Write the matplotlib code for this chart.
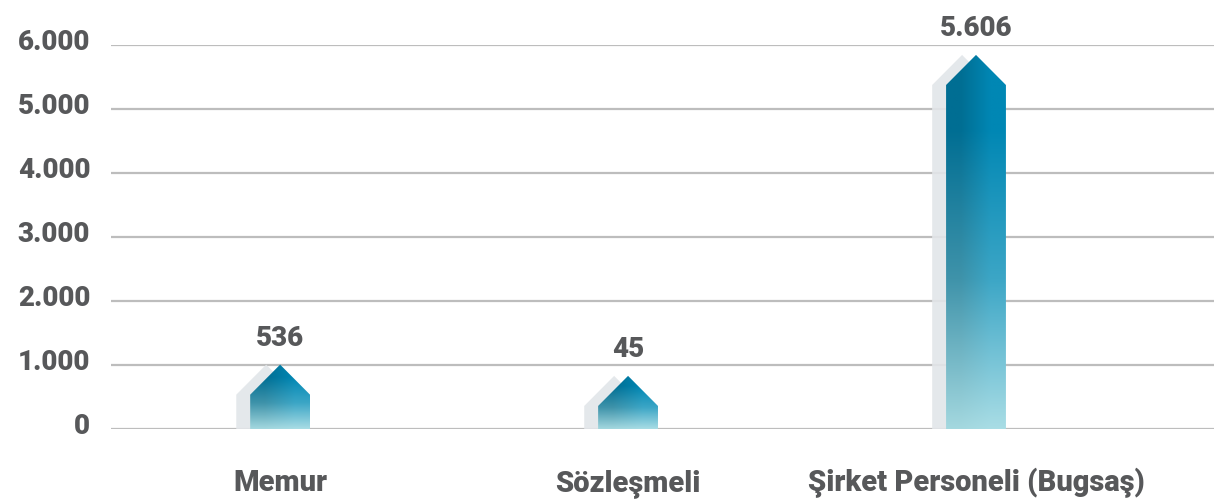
import matplotlib
matplotlib.use("Agg")
import matplotlib.pyplot as plt
import matplotlib.transforms as mtransforms
from matplotlib.patches import Polygon
from matplotlib.colors import to_rgb
import numpy as np

# ---- data ----
categories = ["Memur", "Sözleşmeli", "Şirket Personeli (Bugsaş)"]
values = [536, 45, 5606]
value_labels = ["536", "45", "5.606"]
ytick_values = [0, 1000, 2000, 3000, 4000, 5000, 6000]
ytick_labels = ["0", "1.000", "2.000", "3.000", "4.000", "5.000", "6.000"]

# ---- style ----
FONT = ["Roboto", "DejaVu Sans"]
WEIGHT = "heavy"
TEXT_COLOR = "#57585a"
GRID_COLOR = "#bdbdbd"
SHADOW_COLOR = "#e2e6e9"
TOP_LEFT, TOP_RIGHT = "#006e93", "#0087b4"
MID_LEFT, MID_RIGHT = "#3f93aa", "#3ca6c6"
BOT_LEFT, BOT_RIGHT = "#a4d8df", "#a9dde5"
BAR_W = 0.172
SHADOW_DX = 0.04
HEAD = 470          # arrow-head height in data units (~30 px)
MIN_SHAPE = 360     # minimum visible body height
MAX_SHAPE = 5375    # body clamp so the head + label stay inside the figure

W, H = 1214, 503
fig = plt.figure(figsize=(W / 100, H / 100), dpi=100)
ax = fig.add_axes([111 / W, (H - 429) / H, (W - 111) / W, (429 - 45) / H])
ax.set_xlim(-0.486, 2.684)
ax.set_ylim(0, 6000)

for s in ax.spines.values():
    s.set_visible(False)
ax.set_xticks([])
ax.set_yticks(ytick_values)
ax.set_yticklabels(ytick_labels, fontsize=20, fontweight=WEIGHT,
                   color=TEXT_COLOR, family=FONT)
ax.tick_params(axis="y", length=0, pad=15)
off = mtransforms.ScaledTranslation(0, 5 / 100, fig.dpi_scale_trans)
for lab in ax.get_yticklabels():
    lab.set_transform(lab.get_transform() + off)
for yv in ytick_values:
    ax.axhline(yv, color=GRID_COLOR, lw=1.6, zorder=1)


def grad_image(n=256):
    t = np.linspace(0, 1, n)[:, None]  # 0 top -> 1 bottom
    img = np.zeros((n, 2, 3))
    stops = [0.0, 0.2, 0.6, 1.0]
    for j, cols in enumerate([(TOP_LEFT, TOP_LEFT, MID_LEFT, BOT_LEFT),
                              (TOP_RIGHT, TOP_RIGHT, MID_RIGHT, BOT_RIGHT)]):
        rgb = np.array([to_rgb(c) for c in cols])
        for k in range(3):
            img[:, j, k] = np.interp(t[:, 0], stops, rgb[:, k])
    return img


for i, (v, lab) in enumerate(zip(values, value_labels)):
    top = min(max(v, MIN_SHAPE), MAX_SHAPE)
    x0, x1 = i - BAR_W / 2, i + BAR_W / 2
    pts = [(x0, 0), (x0, top), (i, top + HEAD), (x1, top), (x1, 0)]
    sh = [(px - SHADOW_DX, py) for px, py in pts]
    ax.add_patch(Polygon(sh, closed=True, facecolor=SHADOW_COLOR, alpha=0.9,
                         edgecolor="none", zorder=2))
    poly = Polygon(pts, closed=True, facecolor="none", edgecolor="none", zorder=3)
    ax.add_patch(poly)
    im = ax.imshow(grad_image(), extent=[x0, x1, 0, top + HEAD], aspect="auto",
                   interpolation="bilinear", zorder=3)
    im.set_clip_path(poly)
    ax.annotate(lab, (i, top + HEAD), xytext=(0, 9), textcoords="offset points",
                ha="center", va="bottom", fontsize=20, fontweight=WEIGHT,
                color=TEXT_COLOR, family=FONT, annotation_clip=False)
    ax.text(i, -(491 - 429) / 384, categories[i],
            transform=mtransforms.blended_transform_factory(ax.transData, ax.transAxes),
            ha="center", va="baseline", fontsize=21, fontweight=WEIGHT,
            color=TEXT_COLOR, family=FONT)

ax.set_xlim(-0.486, 2.684)
ax.set_ylim(0, 6000)
fig.savefig("out.png", dpi=100)
